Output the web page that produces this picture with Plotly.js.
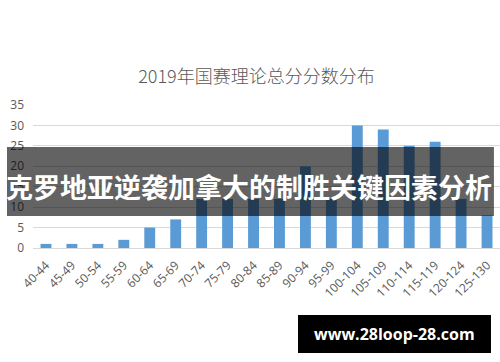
<!DOCTYPE html>
<html>
<head>
<meta charset="utf-8">
<script src="https://cdn.plot.ly/plotly-3.0.1.min.js"></script>
<style>html,body{margin:0;padding:0;background:#fff;}#chart{width:500px;height:362px;}</style>
</head>
<body>
<div id="chart"></div>
<script>
const categories = ["40-44","45-49","50-54","55-59","60-64","65-69","70-74","75-79","80-84","85-89","90-94","95-99","100-104","105-109","110-114","115-119","120-124","125-130"];
const counts = [1,1,1,2,5,7,12,12,12,12,20,12,30,29,25,26,12,8];
const yTicks = [0,5,10,15,20,25,30,35];
const chartTitle = "2019年国赛理论总分分数分布";
const bannerText = "克罗地亚逆袭加拿大的制胜关键因素分析";
const watermarkText = "www.28loop-28.com";

const font = "'Noto Sans CJK SC','Noto Sans',sans-serif";
const trace = {
  type: 'bar', x: categories, y: counts, width: 0.42,
  marker: {color: '#5b9bd5'}, hoverinfo: 'skip'
};
const layout = {
  width: 500, height: 362,
  margin: {l: 33, r: 0, t: 105, b: 114},
  paper_bgcolor: '#ffffff', plot_bgcolor: '#ffffff',
  showlegend: false,
  title: {text: chartTitle, x: 0.513, xanchor: 'center', y: 0.788, yanchor: 'middle',
          font: {family: font, size: 18, color: '#595959', weight: 300}},
  xaxis: {type: 'category', tickangle: -45, showgrid: false, showline: false, zeroline: false,
          ticks: '', ticklabelstandoff: 7,
          tickfont: {family: "'Open Sans',sans-serif", size: 12, color: '#595959'}},
  yaxis: {range: [0, 35], tickvals: yTicks, showgrid: true, gridcolor: '#d9d9d9', gridwidth: 1,
          zeroline: true, zerolinecolor: '#d9d9d9', zerolinewidth: 1, showline: false, ticks: '',
          ticklabelstandoff: 8,
          tickfont: {family: "'Open Sans',sans-serif", size: 12, color: '#595959'}},
  shapes: [
    {type: 'rect', xref: 'paper', yref: 'paper', x0: -0.0557, x1: 0.987, y0: 0.224, y1: 0.706,
     fillcolor: 'rgba(0,0,0,0.61)', line: {width: 0}, layer: 'above'},
    {type: 'rect', xref: 'paper', yref: 'paper', x0: 0.5675, x1: 0.9807, y0: -0.734, y1: -0.4685,
     fillcolor: '#000000', line: {width: 0}, layer: 'above'}
  ],
  annotations: [
    {text: '<b>' + bannerText + '</b>', xref: 'paper', yref: 'paper', x: 0.462, y: 0.427,
     xanchor: 'center', yanchor: 'middle', showarrow: false,
     font: {family: font, size: 27, color: '#ffffff'}},
    {text: '<b>' + watermarkText + '</b>', xref: 'paper', yref: 'paper', x: 0.774, y: -0.60,
     xanchor: 'center', yanchor: 'middle', showarrow: false,
     font: {family: "'Open Sans',sans-serif", size: 16, color: '#ffffff'}}
  ]
};
Plotly.newPlot('chart', [trace], layout, {displayModeBar: false, staticPlot: true});
</script>
</body>
</html>
